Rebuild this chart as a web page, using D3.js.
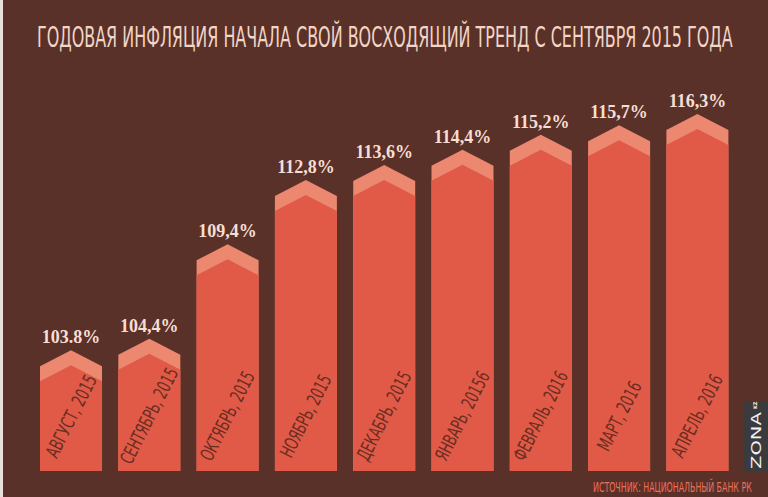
<!DOCTYPE html>
<html lang="ru">
<head>
	<meta charset="UTF-8">
	<title>Годовая инфляция</title>
	<script src="https://d3js.org/d3.v7.min.js"></script>
	<style>
		html, body { margin: 0; padding: 0; background: #5a3129; }
		svg { display: block; }
	</style>
</head>
<body>
	<svg width="768" height="497"></svg>
	<script>
		// data
		const months = ["АВГУСТ, 2015", "СЕНТЯБРЬ, 2015", "ОКТЯБРЬ, 2015", "НОЯБРЬ, 2015", "ДЕКАБРЬ, 2015",
			"ЯНВАРЬ, 20156", "ФЕВРАЛЬ, 2016", "МАРТ, 2016", "АПРЕЛЬ, 2016"];
		const values = [103.8, 104.4, 109.4, 112.8, 113.6, 114.4, 115.2, 115.7, 116.3];
		const valueLabels = ["103.8%", "104,4%", "109,4%", "112,8%", "113,6%", "114,4%", "115,2%", "115,7%", "116,3%"];
		const title = "ГОДОВАЯ ИНФЛЯЦИЯ НАЧАЛА СВОЙ ВОСХОДЯЩИЙ ТРЕНД С СЕНТЯБРЯ 2015 ГОДА";
		const source = "ИСТОЧНИК: НАЦИОНАЛЬНЫЙ БАНК РК";

		const svg = d3.select("svg");
		const narrow = "'Liberation Sans Narrow', 'DejaVu Sans Condensed', 'Roboto Condensed', sans-serif";

		svg.append("rect").attr("width", 768).attr("height", 497).attr("fill", "#5a3129");
		svg.append("rect").attr("width", 3).attr("height", 497).attr("fill", "#e9dfdb");

		const base = 471,   // bottom of the bars
			shoulder = 16,  // peak -> shoulder drop
			band = 15;      // light band thickness

		const x = d3.scaleBand()
			.domain(months)
			.range([40, 728.4])
			.paddingInner(0.208)
			.paddingOuter(0);

		const y = d3.scaleLinear()
			.domain([100, 120])
			.range([422, 44]);

		const data = months.map((m, i) => ({ month: m, value: values[i], label: valueLabels[i] }));

		// squeeze a text horizontally so it spans exactly w px
		function fit(sel, x0, y0, w, rot) {
			const len = sel.node().getComputedTextLength();
			sel.attr("transform", "translate(" + x0 + "," + y0 + ")" + (rot ? " rotate(" + rot + ")" : "") + " scale(" + (w / len) + ",1)");
		}

		function arrow(d, off) {
			const l = x(d.month), r = l + x.bandwidth(), c = l + x.bandwidth() / 2;
			const p = y(d.value) + off;
			return "M" + l + "," + base +
				"L" + l + "," + (p + shoulder) +
				"L" + c + "," + p +
				"L" + r + "," + (p + shoulder) +
				"L" + r + "," + base + "Z";
		}

		const bars = svg.append("g")
			.selectAll("g")
			.data(data)
			.enter().append("g");

		bars.append("path")
			.attr("d", d => arrow(d, 0))
			.attr("fill", "#ec8770");

		bars.append("path")
			.attr("d", d => arrow(d, band))
			.attr("fill", "#e05a47");

		// value labels
		bars.append("text")
			.attr("x", d => x(d.month) + x.bandwidth() / 2)
			.attr("y", d => y(d.value) - 7)
			.attr("text-anchor", "middle")
			.style("font-family", "'Liberation Serif', 'DejaVu Serif', serif")
			.style("font-weight", "bold")
			.style("font-size", "18px")
			.attr("fill", "#f7ded2")
			.text(d => d.label);

		// month labels, slanted
		bars.append("text")
			.attr("text-anchor", "middle")
			.attr("dominant-baseline", "central")
			.style("font-family", narrow)
			.style("font-size", "19px")
			.attr("fill", "#6b2d22")
			.text(d => d.month)
			.each(function(d) {
				fit(d3.select(this), x(d.month) + x.bandwidth() / 2, 416, d.month.length * 7.5, -63);
			});

		// title
		svg.append("text")
			.style("font-family", narrow)
			.style("font-size", "28px")
			.attr("fill", "#f3d5c6")
			.text(title)
			.call(fit, 37, 47, 696);

		// source
		svg.append("text")
			.style("font-family", narrow)
			.style("font-size", "14px")
			.attr("fill", "#e8705a")
			.text(source)
			.call(fit, 593, 492, 159);

		// logo
		const logo = svg.append("g");
		logo.append("rect")
			.attr("x", 743).attr("y", 401)
			.attr("width", 25).attr("height", 70)
			.attr("fill", "#3b3a3c");
		logo.append("text")
			.style("font-family", "'DejaVu Sans', sans-serif")
			.style("font-size", "14px")
			.attr("fill", "#f2f2f2")
			.text("ZONA")
			.call(fit, 761, 469, 57, -90);
		logo.append("text")
			.attr("transform", "translate(757,409) rotate(-90)")
			.style("font-family", "'DejaVu Sans', sans-serif")
			.style("font-weight", "bold")
			.style("font-size", "5px")
			.attr("fill", "#f2f2f2")
			.text("KZ");
	</script>
</body>
</html>
